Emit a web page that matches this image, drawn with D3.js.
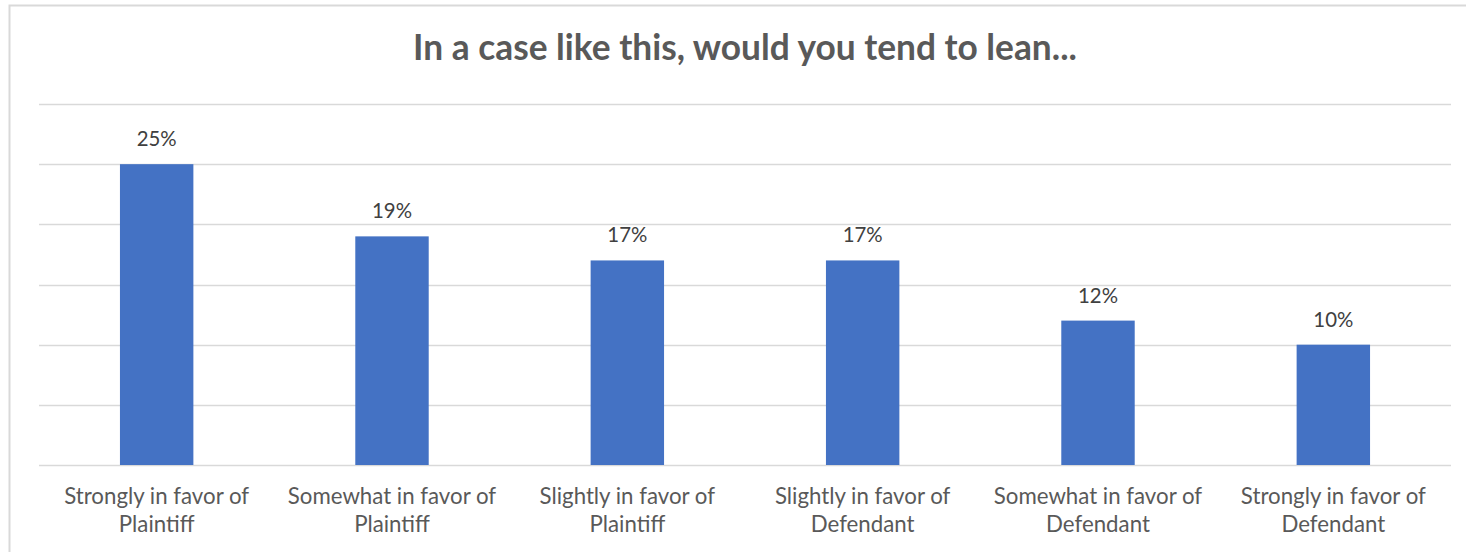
<!DOCTYPE html>
<html><head><meta charset="utf-8">
<script src="https://cdn.jsdelivr.net/npm/d3@7"></script>
<style>body{margin:0;background:#fff;} svg{display:block;}</style>
</head><body>
<svg id="c" width="1466" height="552"></svg>
<script>
const categories = [
  ["Strongly in favor of", "Plaintiff"],
  ["Somewhat in favor of", "Plaintiff"],
  ["Slightly in favor of", "Plaintiff"],
  ["Slightly in favor of", "Defendant"],
  ["Somewhat in favor of", "Defendant"],
  ["Strongly in favor of", "Defendant"]
];
const values = [25, 19, 17, 17, 12, 10];
const yTicks = [0, 5, 10, 15, 20, 25, 30];
const title = "In a case like this, would you tend to lean...";

const svg = d3.select("#c");
const font = "Lato, 'Open Sans', sans-serif";
const m = {left: 39, right: 1451, top: 104, bottom: 465};

svg.append("rect").attr("x", 9.5).attr("y", 5.5).attr("width", 1480).attr("height", 600)
  .attr("fill", "#fff").attr("stroke", "#d9d9d9").attr("stroke-width", 2);

const x = d3.scaleBand().domain(d3.range(categories.length)).range([m.left, m.right]).paddingInner(0.688).paddingOuter(0.344);
const y = d3.scaleLinear().domain([0, 30]).range([m.bottom, m.top]);

svg.append("g").selectAll("line").data(yTicks).join("line")
  .attr("x1", m.left).attr("x2", m.right)
  .attr("y1", d => Math.round(y(d)) + 0.5).attr("y2", d => Math.round(y(d)) + 0.5)
  .attr("stroke", "#d9d9d9").attr("stroke-width", 1.5);

svg.append("g").selectAll("rect").data(values).join("rect")
  .attr("x", (d, i) => x(i)).attr("width", x.bandwidth())
  .attr("y", d => y(d)).attr("height", d => y(0) - y(d))
  .attr("fill", "#4472C4");

const dl = svg.append("g").selectAll("text").data(values).join("text")
  .attr("x", (d, i) => x(i) + x.bandwidth() / 2).attr("y", d => y(d) - 18)
  .attr("text-anchor", "middle").attr("font-family", font).attr("font-size", 20)
  .attr("fill", "#404040").text(d => d + "%");
const dw = dl.nodes()[0].getComputedTextLength();
dl.attr("font-size", 20 * 40 / dw);

const lab = svg.append("g").selectAll("text").data(categories).join("text")
  .attr("text-anchor", "middle").attr("font-family", font).attr("font-size", 19)
  .attr("fill", "#595959");
lab.each(function(d, i) {
  const t = d3.select(this);
  d.forEach((line, j) => {
    t.append("tspan").attr("x", x(i) + x.bandwidth() / 2).attr("y", 504 + j * 28).text(line);
  });
});

const tt = svg.append("text").attr("x", 745).attr("y", 60).attr("text-anchor", "middle")
  .attr("font-family", font).attr("font-weight", "bold").attr("font-size", 28)
  .attr("fill", "#595959").text(title);
const w = tt.node().getComputedTextLength();
tt.attr("font-size", 28 * 664 / w);

const l0 = lab.nodes()[0].firstChild.getComputedTextLength();
lab.attr("font-size", 19 * 185 / l0);
</script>
</body></html>
